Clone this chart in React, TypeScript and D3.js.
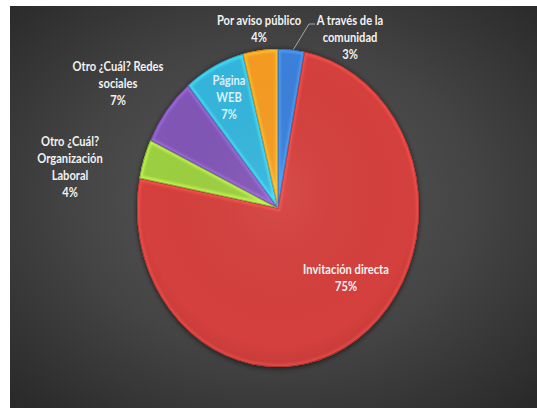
import React from "react";
import * as d3 from "d3";

const categories = [
  "A través de la comunidad",
  "Invitación directa",
  "Otro ¿Cuál? Organización Laboral",
  "Otro ¿Cuál? Redes sociales",
  "Página WEB",
  "Por aviso público",
];
const values = [3, 75, 4, 7, 7, 4];
const percentLabels = ["3%", "75%", "4%", "7%", "7%", "4%"];
const labelLines = [
  ["A través de la", "comunidad"],
  ["Invitación directa"],
  ["Otro ¿Cuál?", "Organización", "Laboral"],
  ["Otro ¿Cuál? Redes", "sociales"],
  ["Página", "WEB"],
  ["Por aviso público"],
];
const colors = ["#3b80da", "#d4403c", "#9ccf3f", "#8156b6", "#34b5dc", "#f59b22"];

// layout
const W = 537;
const H = 408;
const CX = 278;
const CY = 208;
const RY = 159;
const RX = 141;
const LINE_H = 17;
const labelAnchors: [number, number][] = [
  [350, 25],
  [346, 274],
  [70, 146],
  [118, 71],
  [229, 85],
  [259, 25],
];
const labelColors = ["#f2f2f2", "#f2f2f2", "#f2f2f2", "#f2f2f2", "#d9f1f8", "#f2f2f2"];

export default function App() {
  const pie = d3
    .pie<number>()
    .sort(null)
    .value((d) => d)
    .startAngle(0)
    .endAngle(2 * Math.PI);
  const arcs = pie(values);
  const arc = d3.arc<d3.PieArcDatum<number>>().innerRadius(0).outerRadius(RY);
  const sx = RX / RY;

  const a0 = (arcs[0].startAngle + arcs[0].endAngle) / 2;
  const lx0 = CX + Math.sin(a0) * RX;
  const ly0 = CY - Math.cos(a0) * RY;
  const leader = d3.line()([
    [lx0 + 2, ly0],
    [labelAnchors[0][0] - 41, labelAnchors[0][1] - 1],
    [labelAnchors[0][0] - 35, labelAnchors[0][1] - 1],
  ]);

  return (
    <svg
      width={W}
      height={H}
      style={{ position: "absolute", left: 0, top: 0, display: "block" }}
    >
      <defs>
        <radialGradient id="bg" cx="50%" cy="48%" r="70%">
          <stop offset="0%" stopColor="#5a5a5a" />
          <stop offset="55%" stopColor="#444444" />
          <stop offset="100%" stopColor="#2a2a2a" />
        </radialGradient>
        <filter id="shadow" x="-20%" y="-20%" width="140%" height="140%">
          <feDropShadow dx="0" dy="1" stdDeviation="3" floodColor="#000" floodOpacity="0.7" />
        </filter>
        <filter id="blur1">
          <feGaussianBlur stdDeviation="1.2" />
        </filter>
        {arcs.map((d, i) => (
          <clipPath id={`clip${i}`} key={i}>
            <path d={arc(d) || ""} />
          </clipPath>
        ))}
        <radialGradient id="shade" cx="50%" cy="45%" r="60%">
          <stop offset="0%" stopColor="#fff" stopOpacity="0.06" />
          <stop offset="80%" stopColor="#000" stopOpacity="0.0" />
          <stop offset="100%" stopColor="#000" stopOpacity="0.12" />
        </radialGradient>
      </defs>
      <rect x={10} y={6} width={W - 10} height={H - 6} fill="url(#bg)" />
      <g transform={`translate(${CX},${CY}) scale(${sx},1)`}>
        <g filter="url(#shadow)">
          {arcs.map((d, i) => (
            <path key={i} d={arc(d) || ""} fill={colors[i]} />
          ))}
        </g>
        {arcs.map((d, i) => {
          const c = d3.color(colors[i])!;
          return (
            <g key={"b" + i} clipPath={`url(#clip${i})`}>
              <path
                d={arc(d) || ""}
                fill="none"
                stroke={c.brighter(0.7).formatHex()}
                strokeWidth={6}
                strokeOpacity={0.75}
                filter="url(#blur1)"
              />
              <path
                d={arc(d) || ""}
                fill="none"
                stroke={c.darker(0.8).formatHex()}
                strokeWidth={1.6}
                strokeOpacity={0.8}
              />
            </g>
          );
        })}
        <circle r={RY} fill="url(#shade)" />
      </g>
      {leader && <path d={leader} fill="none" stroke="#a6a6a6" strokeWidth={1} />}
      {labelLines.map((lines, i) => {
        const [x, y] = labelAnchors[i];
        const all = [...lines, percentLabels[i]];
        return (
          <text
            key={categories[i]}
            transform={`translate(${x},${y}) scale(0.93,1.04)`}
            textAnchor="middle"
            fill={labelColors[i]}
            fontFamily="Lato, 'Open Sans', sans-serif"
            fontWeight="bold"
            fontSize={12}
          >
            {all.map((t, j) => (
              <tspan key={j} x={0} y={(j * LINE_H) / 1.04}>
                {t}
              </tspan>
            ))}
          </text>
        );
      })}
    </svg>
  );
}
